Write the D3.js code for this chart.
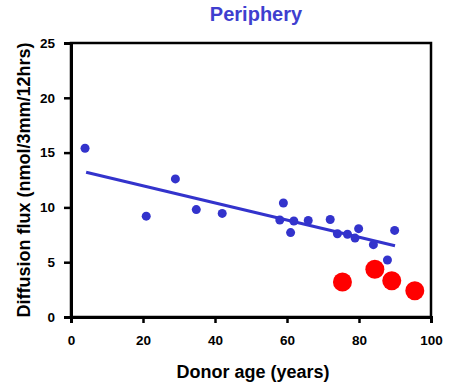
<!DOCTYPE html>
<html>
<head>
<meta charset="utf-8">
<script src="https://cdn.jsdelivr.net/npm/d3@7"></script>
<style>
  body { margin: 0; background: #fff; }
  .tick text { font-family: "Liberation Sans", Arial, sans-serif; font-weight: bold; font-size: 13.5px; }
</style>
</head>
<body>
<div id="chart"></div>
<script>
// blue donors (age, flux)
const blueAge = [3.9, 20.9, 29, 34.8, 42, 59, 58, 61.9, 61, 65.9, 72, 74, 76.8, 78.9, 79.9, 84, 89.9, 87.9];
const blueFlux = [15.4, 9.2, 12.6, 9.8, 9.45, 10.4, 8.85, 8.76, 7.7, 8.8, 8.9, 7.6, 7.55, 7.2, 8.06, 6.6, 7.9, 5.2];
// red donors
const redAge = [75.4, 84.4, 89.1, 95.5];
const redFlux = [3.2, 4.35, 3.3, 2.4];
// fitted trend line ends
const trendAge = [4.2, 90];
const trendFlux = [13.2, 6.5];

const xTicks = [0, 20, 40, 60, 80, 100];
const yTicks = [0, 5, 10, 15, 20, 25];

const width = 451, height = 385;
const margin = {top: 43, right: 20, bottom: 68, left: 71};

const svg = d3.select('#chart').append('svg')
  .attr('width', width)
  .attr('height', height);

const x = d3.scaleLinear().domain([0, 100]).range([margin.left, width - margin.right]);
const y = d3.scaleLinear().domain([0, 25]).range([height - margin.bottom, margin.top]);

// frame (top/right)
svg.append('rect')
  .attr('x', x(0)).attr('y', y(25))
  .attr('width', x(100) - x(0)).attr('height', y(0) - y(25))
  .attr('fill', 'none').attr('stroke', '#000').attr('stroke-width', 2.5);

const xAxis = svg.append('g')
  .attr('transform', 'translate(0,' + y(0) + ')')
  .call(d3.axisBottom(x).tickValues(xTicks).tickSize(6).tickPadding(12));
const yAxis = svg.append('g')
  .attr('transform', 'translate(' + x(0) + ',0)')
  .call(d3.axisLeft(y).tickValues(yTicks).tickSize(7).tickPadding(9));

[xAxis, yAxis].forEach(g => {
  g.select('.domain').attr('stroke-width', 3);
  g.selectAll('.tick line').attr('stroke-width', 2.5);
  g.selectAll('.tick text').attr('fill', '#000');
});

// trend
svg.append('line')
  .attr('x1', x(trendAge[0])).attr('y1', y(trendFlux[0]))
  .attr('x2', x(trendAge[1])).attr('y2', y(trendFlux[1]))
  .attr('stroke', '#3333cc').attr('stroke-width', 3);

svg.append('g').selectAll('circle')
  .data(blueAge.map((a, i) => [a, blueFlux[i]]))
  .enter().append('circle')
  .attr('cx', d => x(d[0])).attr('cy', d => y(d[1]))
  .attr('r', 4.5).attr('fill', '#3333cc');

svg.append('g').selectAll('circle')
  .data(redAge.map((a, i) => [a, redFlux[i]]))
  .enter().append('circle')
  .attr('cx', d => x(d[0])).attr('cy', d => y(d[1]))
  .attr('r', 9.5).attr('fill', '#ff0000');

// titles
svg.append('text')
  .attr('x', 256).attr('y', 21)
  .attr('text-anchor', 'middle')
  .attr('font-family', 'Liberation Sans, Arial, sans-serif')
  .attr('font-weight', 'bold').attr('font-size', 20)
  .attr('fill', '#3f3fcf')
  .text('Periphery');

svg.append('text')
  .attr('x', 253).attr('y', 378)
  .attr('text-anchor', 'middle')
  .attr('font-family', 'Liberation Sans, Arial, sans-serif')
  .attr('font-weight', 'bold').attr('font-size', 18)
  .text('Donor age (years)');

svg.append('text')
  .attr('transform', 'translate(30,' + 180 + ') rotate(-90)')
  .attr('text-anchor', 'middle')
  .attr('font-family', 'Liberation Sans, Arial, sans-serif')
  .attr('font-weight', 'bold').attr('font-size', 18)
  .text('Diffusion flux (nmol/3mm/12hrs)');
</script>
</body>
</html>
